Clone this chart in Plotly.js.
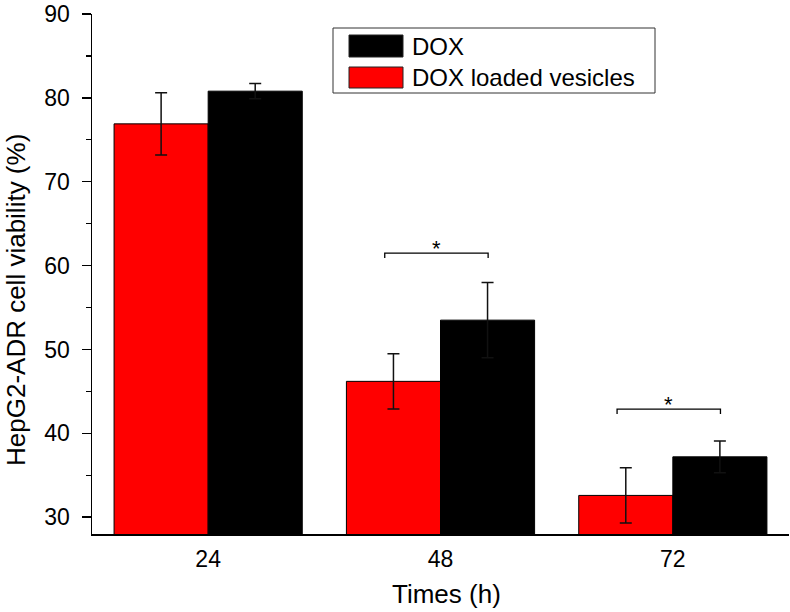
<!DOCTYPE html>
<html>
<head>
<meta charset="utf-8">
<script src="https://cdn.plot.ly/plotly-3.0.1.min.js"></script>
<style>html,body{margin:0;padding:0;background:#fff;}#chart{width:790px;height:612px;}</style>
</head>
<body>
<div id="chart"></div>
<script>
// Data
const categories = ['24', '48', '72'];
const vesicleValues = [76.9, 46.2, 32.6];
const vesicleErrors = [3.7, 3.3, 3.3];
const doxValues = [80.8, 53.5, 37.2];
const doxErrors = [0.9, 4.5, 1.9];
const seriesNames = ['DOX loaded vesicles', 'DOX'];
const xTitle = 'Times (h)';
const yTitle = 'HepG2-ADR cell viability (%)';
// Significance brackets: category index, bracket level, label
const sigCategories = [1, 2];
const sigLevels = [61.5, 42.9];
const sigLabels = ['*', '*'];

const FONT = 'Liberation Sans, Arial, sans-serif';

const traces = [
  {
    type: 'bar', name: seriesNames[0], x: categories, y: vesicleValues,
    marker: {color: '#ff0000', line: {color: '#000', width: 1}},
    error_y: {type: 'data', array: vesicleErrors, visible: true, color: '#111', thickness: 1.5, width: 6},
    showlegend: false
  },
  {
    type: 'bar', name: seriesNames[1], x: categories, y: doxValues,
    marker: {color: '#000000', line: {color: '#000', width: 1}},
    error_y: {type: 'data', array: doxErrors, visible: true, color: '#111', thickness: 1.5, width: 6},
    showlegend: false
  }
];

const L = 92, T = 14, PW = 697, PH = 520;
const px = v => (v - L) / PW;
const py = v => 1 - (v - T) / PH;

const shapes = [];
const annotations = [];
sigCategories.forEach((c, i) => {
  const x0 = c - 0.24, x1 = c + 0.205, y = sigLevels[i];
  shapes.push({type: 'path', xref: 'x', yref: 'y',
    path: `M ${x0},${y - 0.6} L ${x0},${y} L ${x1},${y} L ${x1},${y - 0.6}`,
    line: {color: '#000', width: 1.3}});
  annotations.push({xref: 'x', yref: 'y', x: (x0 + x1) / 2, y: y + 0.55, text: sigLabels[i],
    showarrow: false, yanchor: 'middle', font: {family: FONT, size: 22, color: '#000'}});
});

// Custom legend (paper coords) to mimic large swatches
shapes.push({type: 'rect', xref: 'paper', yref: 'paper', x0: px(333), x1: px(655), y0: py(93), y1: py(28),
  line: {color: '#333', width: 1}, fillcolor: '#fff'});
const legendEntries = [
  {name: seriesNames[1], color: '#000000', top: 35, bot: 57},
  {name: seriesNames[0], color: '#ff0000', top: 67, bot: 88}
];
legendEntries.forEach(e => {
  shapes.push({type: 'rect', xref: 'paper', yref: 'paper',
    x0: px(349), x1: px(403), y0: py(e.bot), y1: py(e.top),
    fillcolor: e.color, line: {color: '#222', width: 1}});
  annotations.push({xref: 'paper', yref: 'paper', x: px(410), y: py((e.top + e.bot) / 2),
    xanchor: 'left', yanchor: 'middle', showarrow: false, text: e.name,
    font: {family: FONT, size: 24, color: '#000'}});
});

// Axis titles as annotations for exact placement
annotations.push({xref: 'paper', yref: 'paper', x: px(447), y: py(594), xanchor: 'center', yanchor: 'middle',
  showarrow: false, text: xTitle, font: {family: FONT, size: 26, color: '#000'}});
annotations.push({xref: 'paper', yref: 'paper', x: px(16), y: py(300), xanchor: 'center', yanchor: 'middle',
  showarrow: false, textangle: -90, text: yTitle, font: {family: FONT, size: 26, color: '#000'}});

const layout = {
  width: 790, height: 612,
  margin: {l: L, r: 790 - L - PW, t: T, b: 612 - T - PH},
  paper_bgcolor: '#fff', plot_bgcolor: '#fff',
  barmode: 'group', bargap: 0.19, bargroupgap: 0,
  showlegend: false,
  font: {family: FONT, color: '#000'},
  xaxis: {
    type: 'category', range: [-0.5, 2.5],
    showline: true, linecolor: '#000', linewidth: 1.5,
    ticks: '', showgrid: false, zeroline: false,
    ticklabelstandoff: 4,
    tickfont: {family: FONT, size: 23, color: '#000'}
  },
  yaxis: {
    range: [28, 90], tick0: 30, dtick: 10,
    showline: true, linecolor: '#000', linewidth: 1.5,
    ticks: 'outside', ticklen: 9, tickwidth: 1.5, tickcolor: '#000',
    minor: {dtick: 5, tick0: 30, ticks: 'outside', ticklen: 5, tickwidth: 1.2, tickcolor: '#000'},
    showgrid: false, zeroline: false,
    ticklabelstandoff: 7,
    tickfont: {family: FONT, size: 23, color: '#000'}
  },
  shapes: shapes,
  annotations: annotations
};

Plotly.newPlot('chart', traces, layout, {displayModeBar: false, staticPlot: true});
</script>
</body>
</html>
